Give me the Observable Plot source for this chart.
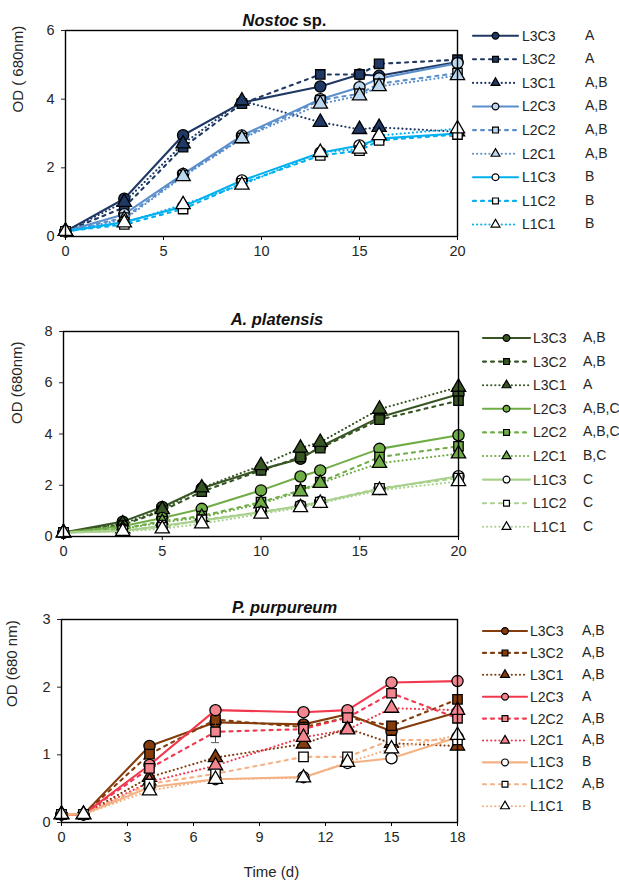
<!DOCTYPE html>
<html>
<head>
<meta charset="utf-8">
<script src="https://cdn.jsdelivr.net/npm/d3@7"></script>
<script src="https://cdn.jsdelivr.net/npm/@observablehq/plot@0.6"></script>
<style>
  html, body { margin: 0; padding: 0; background: #fff; }
  #chart { position: relative; width: 619px; height: 887px; overflow: hidden; }
  #chart svg { position: absolute; left: 0; }
</style>
</head>
<body>
<div id="chart"></div>
<script>
// ---------- DATA ----------
const seriesNames = ["L3C3", "L3C2", "L3C1", "L2C3", "L2C2", "L2C1", "L1C3", "L1C2", "L1C1"];

// Nostoc sp.
const nostocDays = [0, 3, 6, 9, 13, 15, 16, 20];
const nostocOD = [
  [0.15, 1.10, 2.95, 3.90, 4.37, 4.72, 4.68, 5.08], // L3C3
  [0.15, 0.85, 2.60, 3.87, 4.72, 4.72, 5.03, 5.15], // L3C2
  [0.15, 1.00, 2.70, 3.95, 3.33, 3.12, 3.18, 3.05], // L3C1
  [0.15, 0.65, 1.82, 2.94, 4.00, 4.35, 4.60, 5.05], // L2C3
  [0.15, 0.55, 1.78, 2.87, 3.97, 4.16, 4.45, 4.76], // L2C2
  [0.15, 0.50, 1.75, 2.85, 3.86, 4.10, 4.37, 4.69], // L2C1
  [0.15, 0.42, 0.87, 1.63, 2.44, 2.65, 2.85, 3.00], // L1C3
  [0.15, 0.35, 0.80, 1.55, 2.36, 2.50, 2.80, 2.97], // L1C2
  [0.15, 0.40, 0.93, 1.50, 2.45, 2.55, 2.94, 3.14]  // L1C1
];
const nostocLetters = ["A", "A", "A,B", "A,B", "A,B", "A,B", "B", "B", "B"];
const nostocXTicks = [0, 5, 10, 15, 20];
const nostocYTicks = [0, 2, 4, 6];

// A. platensis
const platensisDays = [0, 3, 5, 7, 10, 12, 13, 16, 20];
const platensisOD = [
  [0.15, 0.58, 1.15, 1.88, 2.62, 3.03, 3.50, 4.65, 5.55], // L3C3
  [0.15, 0.45, 1.00, 1.75, 2.58, 3.10, 3.45, 4.56, 5.30], // L3C2
  [0.15, 0.50, 1.05, 1.90, 2.77, 3.45, 3.68, 4.97, 5.83], // L3C1
  [0.15, 0.40, 0.72, 1.08, 1.80, 2.34, 2.58, 3.42, 3.95], // L2C3
  [0.15, 0.30, 0.60, 0.80, 1.34, 1.80, 2.12, 3.10, 3.52], // L2C2
  [0.15, 0.30, 0.55, 0.75, 1.28, 1.75, 2.08, 2.86, 3.23], // L2C1
  [0.15, 0.22, 0.42, 0.62, 0.95, 1.20, 1.35, 1.85, 2.35], // L1C3
  [0.15, 0.23, 0.36, 0.65, 0.95, 1.17, 1.34, 1.88, 2.28], // L1C2
  [0.15, 0.20, 0.30, 0.50, 0.88, 1.13, 1.30, 1.80, 2.15]  // L1C1
];
const platensisLetters = ["A,B", "A,B", "A", "A,B,C", "A,B,C", "B,C", "C", "C", "C"];
const platensisXTicks = [0, 5, 10, 15, 20];
const platensisYTicks = [0, 2, 4, 6, 8];

// P. purpureum
const purpureumDays = [0, 1, 4, 7, 11, 13, 15, 18];
const purpureumOD = [
  [0.12, 0.12, 1.13, 1.48, 1.45, 1.60, 1.35, 1.63], // L3C3
  [0.12, 0.12, 1.01, 1.52, 1.41, 1.55, 1.43, 1.82], // L3C2
  [0.12, 0.12, 0.67, 0.96, 1.16, 1.39, 1.17, 1.13], // L3C1
  [0.12, 0.12, 0.85, 1.66, 1.63, 1.66, 2.07, 2.09], // L2C3
  [0.12, 0.12, 0.80, 1.34, 1.38, 1.55, 1.91, 1.54], // L2C2
  [0.12, 0.12, 0.60, 0.84, 1.26, 1.37, 1.69, 1.66], // L2C1
  [0.12, 0.12, 0.52, 0.64, 0.67, 0.88, 0.95, 1.26], // L1C3
  [0.12, 0.12, 0.57, 0.72, 0.97, 0.97, 1.22, 1.22], // L1C2
  [0.12, 0.12, 0.47, 0.64, 0.66, 0.89, 1.09, 1.29]  // L1C1
];
const purpureumErrL2C2 = [0, 0, 0, 0.16, 0, 0, 0, 0];
const purpureumLetters = ["A,B", "A,B", "A,B", "A", "A,B", "A,B", "B", "A,B", "B"];
const purpureumXTicks = [0, 3, 6, 9, 12, 15, 18];
const purpureumYTicks = [0, 1, 2, 3];

// ---------- STYLE ----------
const FONT = "'Liberation Sans', Arial, sans-serif";
const TEXT = "#262626";
const symbols = ["circle", "square", "triangle"];
const d3symbols = [d3.symbolCircle, d3.symbolSquare, d3.symbolTriangle];
const dashes = [null, "3,5", "0.1,4"];

function panel(cfg) {
  const data = [];
  cfg.values.forEach((row, i) => row.forEach((v, j) => {
    data.push({series: seriesNames[i], idx: i, day: cfg.days[j], od: v, err: cfg.err && cfg.err[i] ? cfg.err[i][j] : 0});
  }));
  const group = i => Math.floor(i / 3);
  const marks = [];
  for (let i = 0; i < 9; i++) {
    const rows = data.filter(d => d.idx === i);
    marks.push(Plot.line(rows, {
      x: "day", y: "od", stroke: cfg.lineColors[group(i)], strokeWidth: 2.1,
      strokeDasharray: dashes[i % 3] || undefined, strokeLinecap: "round"
    }));
    const errRows = rows.filter(d => d.err > 0);
    if (errRows.length) {
      marks.push(Plot.ruleX(errRows, {x: "day", y1: d => d.od - d.err, y2: d => d.od + d.err, stroke: "#555", strokeWidth: 1}));
      marks.push(Plot.ruleY(errRows, {x1: d => d.day - 0.18, x2: d => d.day + 0.18, y: d => d.od - d.err, stroke: "#555", strokeWidth: 1}));
    }
    marks.push(Plot.dot(rows, {
      x: "day", y: "od", symbol: () => symbols[i % 3], r: i % 3 === 0 ? 5.6 : 5.3,
      fill: cfg.fillColors[group(i)], stroke: "black", strokeWidth: 1.3
    }));
  }
  // titles & labels
  cfg.titleParts.forEach(tp => marks.push(Plot.text([tp.text], {
    frameAnchor: "top", dx: tp.dx, dy: cfg.titleDy, textAnchor: tp.anchor,
    fontWeight: "bold", fontStyle: tp.italic ? "italic" : "normal", fontSize: 16.5, fill: "#111"
  })));
  marks.push(Plot.text([cfg.ylabel], {
    frameAnchor: "left", rotate: -90, dx: cfg.ylabelDx, dy: cfg.ylabelDy, fontSize: 15, fill: TEXT
  }));
  if (cfg.xlabel) marks.push(Plot.text([cfg.xlabel], {
    frameAnchor: "bottom", dx: 12, dy: 54, fontSize: 15, fill: TEXT
  }));
  marks.push(Plot.axisX({ticks: cfg.xTicks, tickSize: 4, tickPadding: 5, label: null, fontSize: 14.5, color: TEXT, stroke: "black"}));
  marks.push(Plot.axisY({ticks: cfg.yTicks, tickSize: 4, tickPadding: 7, label: null, fontSize: 14.5, color: TEXT, tickFormat: d3.format("d")}));
  marks.push(Plot.frame({stroke: "black", strokeWidth: 1.4}));

  const svg = Plot.plot({
    width: 619, height: cfg.height,
    marginTop: cfg.marginTop, marginBottom: cfg.marginBottom,
    marginLeft: cfg.marginLeft, marginRight: 619 - cfg.frameRight,
    x: {type: "linear", domain: cfg.xDomain},
    y: {type: "linear", domain: cfg.yDomain},
    style: {fontFamily: FONT, fontSize: "14.5px", background: "transparent", overflow: "visible", color: TEXT},
    marks
  });
  svg.style.top = cfg.top + "px";

  // legend
  const L = cfg.legend;
  const g = d3.select(svg).append("g").attr("class", "legend").attr("text-anchor", "start");
  seriesNames.forEach((name, i) => {
    const y = L.y0 + i * L.step;
    g.append("line")
      .attr("x1", L.x0).attr("x2", L.x1).attr("y1", y).attr("y2", y)
      .attr("stroke", cfg.lineColors[group(i)]).attr("stroke-width", 2.1)
      .attr("stroke-linecap", "round")
      .attr("stroke-dasharray", dashes[i % 3]);
    g.append("path")
      .attr("transform", `translate(${(L.x0 + L.x1) / 2},${y})`)
      .attr("d", d3.symbol(d3symbols[i % 3], i % 3 === 0 ? 36 : 34)())
      .attr("fill", cfg.fillColors[group(i)]).attr("stroke", "black").attr("stroke-width", 1.2);
    g.append("text").attr("x", L.labelX).attr("y", y).attr("dy", "0.35em").attr("text-anchor", "start")
      .attr("font-size", 14).attr("fill", TEXT).attr("font-family", FONT).text(name);
    g.append("text").attr("x", L.letterX).attr("y", y - 1).attr("dy", "0.35em").attr("text-anchor", "start")
      .attr("font-size", 14).attr("fill", TEXT).attr("font-family", FONT).text(cfg.letters[i]);
  });
  return svg;
}

const chart = document.getElementById("chart");

chart.appendChild(panel({
  top: 0, height: 270, marginTop: 30, marginBottom: 34, marginLeft: 65, frameRight: 457,
  days: nostocDays, values: nostocOD, letters: nostocLetters,
  xDomain: [0, 20], yDomain: [0, 6], xTicks: nostocXTicks, yTicks: nostocYTicks,
  lineColors: ["#1f3864", "#5b8fcb", "#00b0f0"],
  fillColors: ["#1f3864", "#bdd7ee", "#ffffff"],
  titleParts: [{text: "Nostoc", dx: 37, anchor: "end", italic: true}, {text: "sp.", dx: 41, anchor: "start", italic: false}],
  titleDy: -16,
  ylabel: "OD ( 680nm)", ylabelDx: -47, ylabelDy: -21,
  legend: {y0: 35.7, step: 23.6, x0: 473, x1: 518, labelX: 522, letterX: 585}
}));

chart.appendChild(panel({
  top: 300, height: 270, marginTop: 31, marginBottom: 34, marginLeft: 63, frameRight: 458,
  days: platensisDays, values: platensisOD, letters: platensisLetters,
  xDomain: [0, 20], yDomain: [0, 8], xTicks: platensisXTicks, yTicks: platensisYTicks,
  lineColors: ["#375623", "#70ad47", "#a9d18e"],
  fillColors: ["#375623", "#70ad47", "#ffffff"],
  titleParts: [{text: "A. platensis", dx: 16, anchor: "middle", italic: true}],
  titleDy: -18,
  ylabel: "OD (680nm)", ylabelDx: -46, ylabelDy: -10,
  legend: {y0: 38, step: 23.6, x0: 483, x1: 530, labelX: 533, letterX: 583}
}));

chart.appendChild(panel({
  top: 590, height: 297, marginTop: 29, marginBottom: 65, marginLeft: 61, frameRight: 457,
  days: purpureumDays, values: purpureumOD, letters: purpureumLetters,
  err: [null, null, null, null, purpureumErrL2C2, null, null, null, null],
  xDomain: [0, 18], yDomain: [0, 3], xTicks: purpureumXTicks, yTicks: purpureumYTicks,
  lineColors: ["#843c0c", "#f2384e", "#f4b183"],
  fillColors: ["#843c0c", "#f4868f", "#ffffff"],
  titleParts: [{text: "P. purpureum", dx: 25, anchor: "middle", italic: true}],
  titleDy: -18,
  ylabel: "OD (680 nm)", ylabelDx: -49, ylabelDy: -14,
  xlabel: "Time (d)",
  legend: {y0: 41, step: 21.9, x0: 483, x1: 527, labelX: 530, letterX: 582}
}));
</script>
</body>
</html>
